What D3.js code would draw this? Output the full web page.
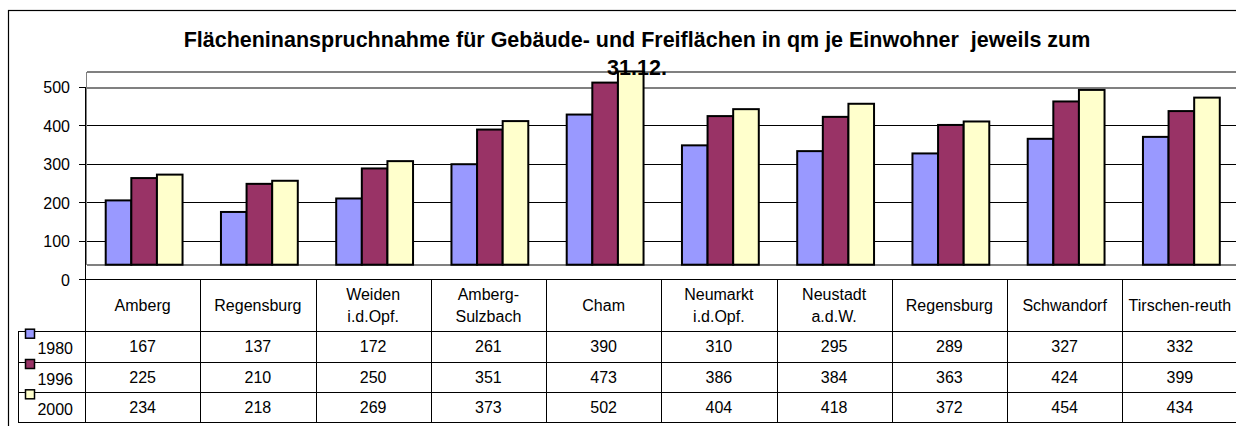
<!DOCTYPE html>
<html>
<head>
<meta charset="utf-8">
<script src="https://cdn.jsdelivr.net/npm/d3@7"></script>
<style>
body { margin: 0; background: #fff; }
text { font-family: Arial, "Liberation Sans", sans-serif; fill: #000; }
</style>
</head>
<body>
<div id="chart"></div>
<script>
// data (qm je Einwohner)
var categories = [["Amberg"], ["Regensburg"], ["Weiden", "i.d.Opf."], ["Amberg-", "Sulzbach"], ["Cham"],
    ["Neumarkt", "i.d.Opf."], ["Neustadt", "a.d.W."], ["Regensburg"], ["Schwandorf"], ["Tirschen-reuth"]];
var seriesNames = ["1980", "1996", "2000"];
var values1980 = [167, 137, 172, 261, 390, 310, 295, 289, 327, 332];
var values1996 = [225, 210, 250, 351, 473, 386, 384, 363, 424, 399];
var values2000 = [234, 218, 269, 373, 502, 404, 418, 372, 454, 434];
var seriesColors = ["#9999ff", "#993366", "#ffffcc"];
var yTicks = [0, 100, 200, 300, 400, 500];
var titleLines = ["Flächeninanspruchnahme für Gebäude- und Freiflächen in qm je Einwohner  jeweils zum", "31.12."];

var series = seriesNames.map(function(name, i) {
    return {name: name, color: seriesColors[i], values: [values1980, values1996, values2000][i]};
});

var width = 1236, height = 426;
var axisX = 85, plotRight = 1237.5;
var depth = {x: 1.5, y: 14.6};   // 3d wall offset like the excel original

var svg = d3.select("#chart")
    .append("svg")
    .attr("width", width)
    .attr("height", height);

// outer chart frame (runs off the right/bottom edge)
svg.append("rect")
    .attr("x", 8.5).attr("y", 10.5)
    .attr("width", 1400).attr("height", 600)
    .attr("fill", "none").attr("stroke", "#000").attr("stroke-width", 1.2);

var x = d3.scaleBand()
    .domain(d3.range(categories.length))
    .range([axisX, plotRight]);

var barW = x.bandwidth() / 4.5;    // gap width 150%
var xs = d3.scaleBand()
    .domain(seriesNames)
    .range([0, barW * 3]);

var y = d3.scaleLinear()
    .domain([0, 500])
    .range([279.3, 86.8]);

var floorY = y(0) - depth.y;
var wallTop = y(500) - depth.y;
var wallLeft = axisX + depth.x;

// back wall + gridlines
var grid = svg.append("g").attr("shape-rendering", "crispEdges");
grid.selectAll("line.grid")
    .data(yTicks.filter(function(t) { return t > 0; }))
    .enter().append("line")
    .attr("x1", wallLeft).attr("x2", width)
    .attr("y1", function(d) { return Math.round(y(d)) + 0.5; })
    .attr("y2", function(d) { return Math.round(y(d)) + 0.5; })
    .attr("stroke", function(d) { return d === 500 ? "#808080" : "#000"; })
    .attr("stroke-width", function(d) { return d === 500 ? 2 : 1; });
grid.append("line")
    .attr("x1", wallLeft).attr("x2", width)
    .attr("y1", wallTop).attr("y2", wallTop)
    .attr("stroke", "#808080").attr("stroke-width", 1.5);
grid.append("line")
    .attr("x1", wallLeft).attr("x2", wallLeft)
    .attr("y1", wallTop).attr("y2", floorY)
    .attr("stroke", "#808080").attr("stroke-width", 1.5);
grid.append("line")
    .attr("x1", wallLeft).attr("x2", width)
    .attr("y1", floorY).attr("y2", floorY)
    .attr("stroke", "#808080").attr("stroke-width", 2);

// bars, standing on the wall floor
var groups = svg.selectAll("g.cat")
    .data(categories)
    .enter().append("g")
    .attr("class", "cat")
    .attr("transform", function(d, i) {
        return "translate(" + (x(i) + (x.bandwidth() - barW * 3) / 2 + depth.x) + ",0)";
    });

groups.selectAll("rect")
    .data(function(d, i) {
        return series.map(function(s) { return {name: s.name, color: s.color, v: s.values[i]}; });
    })
    .enter().append("rect")
    .attr("x", function(d) { return xs(d.name); })
    .attr("width", xs.bandwidth())
    .attr("y", function(d) { return y(d.v) - depth.y; })
    .attr("height", function(d) { return y(0) - y(d.v); })
    .attr("fill", function(d) { return d.color; })
    .attr("stroke", "#000")
    .attr("stroke-width", 2);

// y axis
var yAxis = svg.append("g")
    .attr("transform", "translate(" + axisX + ",0)")
    .attr("shape-rendering", "crispEdges")
    .call(d3.axisLeft(y).tickValues(yTicks).tickSize(6).tickSizeOuter(0).tickPadding(9));
yAxis.attr("font-size", 16).attr("font-family", null);
yAxis.selectAll("text").attr("dy", "0.36em");
yAxis.select(".domain").attr("stroke", "#000");

// data table
var tableTop = y(0);
var rowTops = [331.7, 362, 392.3, 422.6];
var legendLeft = 18;

var table = svg.append("g").attr("shape-rendering", "crispEdges").attr("stroke", "#000");
table.append("line")
    .attr("x1", axisX).attr("x2", width)
    .attr("y1", tableTop).attr("y2", tableTop);
table.selectAll("line.row")
    .data(rowTops)
    .enter().append("line")
    .attr("x1", legendLeft).attr("x2", width)
    .attr("y1", function(d) { return d; }).attr("y2", function(d) { return d; });
table.append("line")
    .attr("x1", legendLeft).attr("x2", legendLeft)
    .attr("y1", rowTops[0]).attr("y2", rowTops[3]);
table.selectAll("line.col")
    .data(d3.range(categories.length))
    .enter().append("line")
    .attr("x1", function(d) { return Math.round(x(d)) + 0.5; })
    .attr("x2", function(d) { return Math.round(x(d)) + 0.5; })
    .attr("y1", tableTop).attr("y2", rowTops[3]);

// category headers
var catCenter = (tableTop + rowTops[0]) / 2;
groups.each(function(lines, i) {
    var t = svg.append("text")
        .attr("text-anchor", "middle")
        .attr("font-size", 16)
        .attr("x", x(i) + x.bandwidth() / 2);
    lines.forEach(function(line, k) {
        t.append("tspan")
            .attr("x", x(i) + x.bandwidth() / 2)
            .attr("y", catCenter + 5.6 + (k - (lines.length - 1) / 2) * 22)
            .text(line);
    });
});

// values + legend keys
series.forEach(function(s, r) {
    var rowMid = (rowTops[r] + rowTops[r + 1]) / 2;
    svg.selectAll("text.val" + r)
        .data(s.values)
        .enter().append("text")
        .attr("text-anchor", "middle")
        .attr("font-size", 16)
        .attr("x", function(d, i) { return x(i) + x.bandwidth() / 2; })
        .attr("y", rowMid + 5.6)
        .text(function(d) { return d; });

    svg.append("rect")
        .attr("x", 25.5).attr("y", rowTops[r] - 2.5)
        .attr("width", 9).attr("height", 9)
        .attr("fill", s.color)
        .attr("stroke", "#000").attr("stroke-width", 1.5);
    svg.append("text")
        .attr("text-anchor", "end")
        .attr("font-size", 16)
        .attr("x", 73)
        .attr("y", rowMid + 7.5)
        .text(s.name);
});

// title
svg.selectAll("text.title")
    .data(titleLines)
    .enter().append("text")
    .attr("text-anchor", "middle")
    .attr("font-size", 21.5)
    .attr("font-weight", "bold")
    .style("white-space", "pre")
    .attr("x", 637)
    .attr("y", function(d, i) { return 46.5 + i * 28.5; })
    .text(function(d) { return d; });
</script>
</body>
</html>
